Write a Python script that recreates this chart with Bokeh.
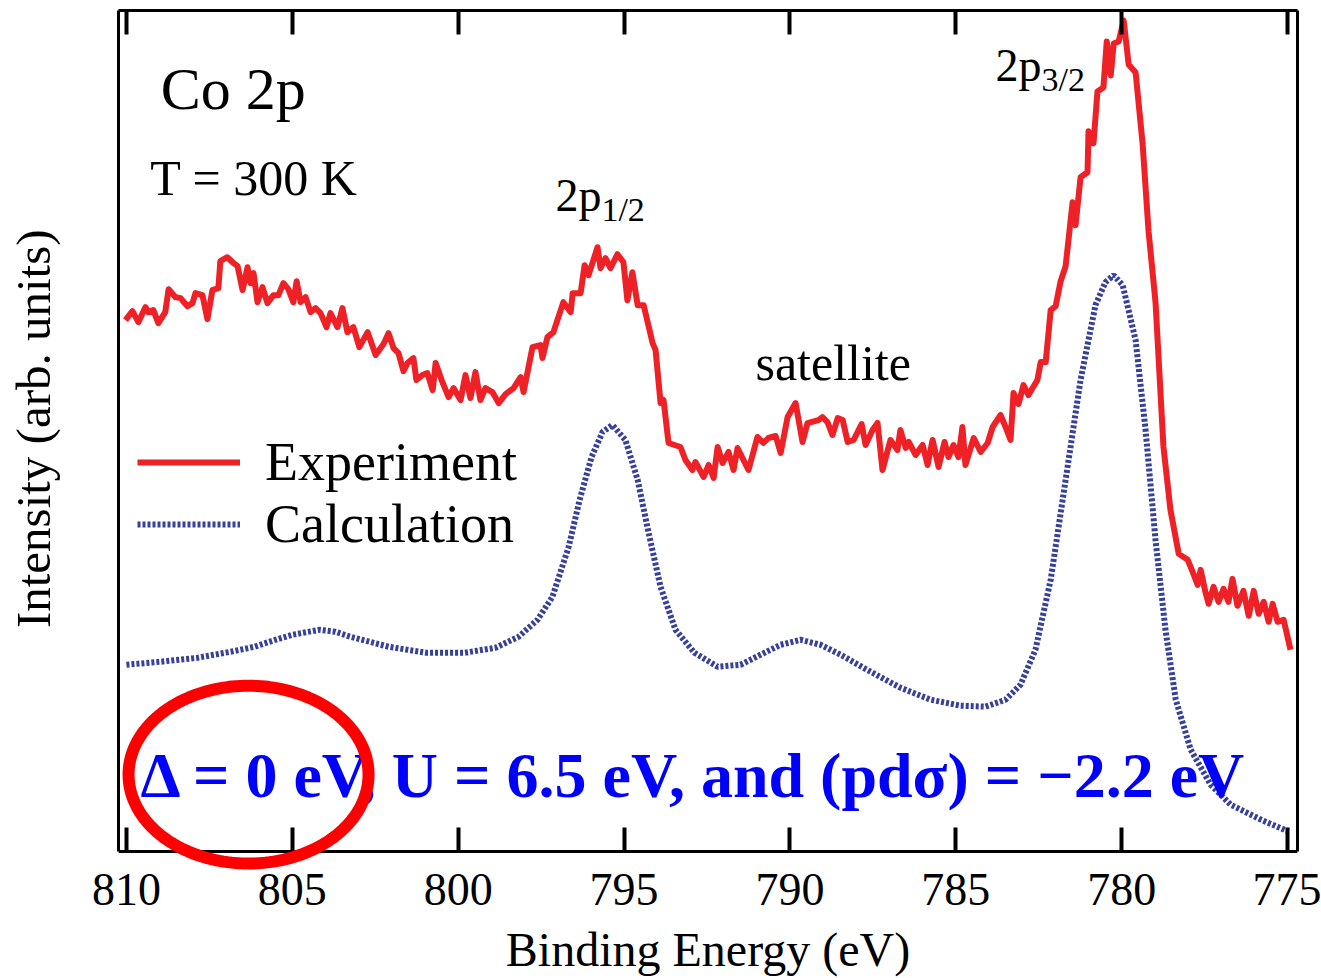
import math
from bokeh.plotting import figure
from bokeh.models import Range1d, LinearAxis, FixedTicker, Legend, LegendItem, PolyAnnotation
from bokeh.core.properties import value
from bokeh.embed import file_html
from bokeh.resources import INLINE

SERIF = "Liberation Serif"

# ---------------- data ----------------
exp_energy = [810.03, 809.82, 809.64, 809.43, 809.34, 809.19, 809.04, 808.83, 808.73, 808.52,
              808.37, 808.16, 808.01, 807.92, 807.71, 807.56, 807.41, 807.23, 807.17, 806.96,
              806.77, 806.65, 806.50, 806.35, 806.26, 806.17, 806.05, 805.90, 805.75, 805.57,
              805.42, 805.27, 805.12, 804.97, 804.87, 804.75, 804.60, 804.45, 804.30, 804.15,
              803.97, 803.85, 803.64, 803.49, 803.34, 803.16, 802.98, 802.73, 802.49, 802.25,
              802.10, 801.95, 801.80, 801.65, 801.53, 801.35, 801.26, 801.08, 800.93, 800.77,
              800.68, 800.50, 800.29, 800.14, 799.93, 799.78, 799.63, 799.48, 799.33, 799.18,
              798.97, 798.78, 798.57, 798.33, 798.12, 798.03, 797.76, 797.52, 797.46, 797.31,
              797.13, 796.83, 796.61, 796.55, 796.31, 796.19, 796.07, 795.80, 795.71, 795.56,
              795.41, 795.20, 795.02, 794.90, 794.75, 794.59, 794.41, 794.14, 794.05, 793.90,
              793.81, 793.66, 793.30, 793.15, 792.94, 792.85, 792.60, 792.45, 792.30, 792.18,
              792.03, 791.85, 791.70, 791.58, 791.40, 791.25, 790.98, 790.80, 790.65, 790.43,
              790.28, 790.07, 789.83, 789.62, 789.47, 789.14, 789.02, 788.87, 788.72, 788.56,
              788.41, 788.26, 788.08, 787.84, 787.72, 787.51, 787.36, 787.21, 786.97, 786.76,
              786.67, 786.51, 786.42, 786.21, 786.00, 785.85, 785.70, 785.52, 785.34, 785.22,
              785.07, 784.92, 784.80, 784.71, 784.46, 784.25, 784.04, 783.89, 783.65, 783.50,
              783.35, 783.26, 783.11, 782.96, 782.81, 782.54, 782.44, 782.29, 782.14, 781.99,
              781.84, 781.69, 781.48, 781.39, 781.24, 781.03, 781.00, 780.85, 780.73, 780.55,
              780.45, 780.33, 780.24, 780.09, 779.94, 779.79, 779.58, 779.37, 779.19, 778.98,
              778.74, 778.53, 778.28, 778.01, 777.86, 777.71, 777.62, 777.47, 777.38, 777.23,
              777.08, 776.93, 776.78, 776.66, 776.51, 776.33, 776.17, 776.02, 775.87, 775.72,
              775.57, 775.45, 775.30, 775.12, 774.91]

exp_intensity = [5.32, 5.41, 5.30, 5.45, 5.40, 5.42, 5.29, 5.40, 5.63, 5.55,
                 5.54, 5.46, 5.49, 5.59, 5.57, 5.33, 5.62, 5.64, 5.91, 5.95,
                 5.89, 5.86, 5.62, 5.85, 5.69, 5.79, 5.50, 5.65, 5.49, 5.57,
                 5.57, 5.69, 5.63, 5.50, 5.71, 5.50, 5.55, 5.40, 5.44, 5.39,
                 5.25, 5.39, 5.25, 5.44, 5.20, 5.25, 5.05, 5.20, 4.97, 5.08,
                 5.19, 5.04, 4.99, 4.81, 4.89, 4.94, 4.72, 4.77, 4.79, 4.62,
                 4.89, 4.72, 4.55, 4.64, 4.52, 4.77, 4.54, 4.80, 4.52, 4.64,
                 4.60, 4.49, 4.58, 4.64, 4.75, 4.60, 5.05, 5.07, 4.94, 5.15,
                 5.20, 5.50, 5.40, 5.59, 5.59, 5.87, 5.77, 6.05, 5.84, 5.94,
                 5.84, 5.98, 5.90, 5.52, 5.80, 5.47, 5.47, 5.09, 5.02, 4.49,
                 4.52, 4.09, 4.05, 3.92, 3.82, 3.90, 3.75, 3.87, 3.74, 4.05,
                 3.89, 4.00, 3.82, 4.04, 3.92, 3.82, 4.15, 4.09, 4.14, 4.16,
                 3.99, 4.35, 4.49, 4.10, 4.29, 4.32, 4.35, 4.30, 4.17, 4.34,
                 4.32, 4.10, 4.12, 4.28, 4.07, 4.22, 4.29, 3.82, 4.12, 4.02,
                 4.22, 4.04, 4.10, 3.97, 4.07, 3.87, 4.12, 3.85, 4.10, 3.95,
                 4.07, 3.95, 4.25, 3.87, 4.14, 4.00, 4.09, 4.25, 4.37, 4.25,
                 4.12, 4.59, 4.48, 4.67, 4.57, 4.72, 4.90, 4.90, 5.42, 5.46,
                 5.71, 5.86, 6.50, 6.27, 6.75, 6.80, 7.21, 7.09, 7.61, 7.65,
                 8.11, 7.77, 8.09, 8.11, 8.32, 7.88, 7.80, 7.09, 6.21, 5.50,
                 4.05, 3.42, 2.98, 2.92, 2.80, 2.67, 2.82, 2.59, 2.48, 2.65,
                 2.50, 2.63, 2.50, 2.73, 2.46, 2.61, 2.36, 2.61, 2.38, 2.50,
                 2.30, 2.48, 2.30, 2.32, 2.02]

calc_energy = [810.00, 808.97, 807.86, 806.86, 806.14, 805.51, 805.00, 804.18, 803.70, 803.25,
               802.10, 800.96, 799.81, 798.88, 798.18, 797.61, 797.16, 796.67, 796.34, 795.98,
               795.65, 795.35, 794.96, 794.59, 794.26, 793.90, 793.45, 792.88, 792.18, 791.49,
               790.89, 790.28, 789.68, 789.08, 788.47, 787.57, 786.67, 785.76, 784.86, 784.10,
               783.50, 783.05, 782.60, 782.14, 781.69, 781.24, 780.79, 780.49, 780.24, 779.97,
               779.58, 779.28, 778.98, 778.68, 778.37, 777.92, 777.32, 776.72, 775.81, 774.97]

calc_intensity = [1.87, 1.90, 1.94, 2.00, 2.05, 2.12, 2.17, 2.22, 2.20, 2.15,
                  2.05, 1.99, 1.99, 2.04, 2.15, 2.32, 2.55, 3.05, 3.52, 3.95,
                  4.20, 4.27, 4.12, 3.72, 3.19, 2.65, 2.22, 1.99, 1.85, 1.87,
                  1.97, 2.07, 2.12, 2.07, 1.97, 1.80, 1.64, 1.52, 1.46, 1.45,
                  1.52, 1.67, 2.02, 2.72, 3.72, 4.72, 5.47, 5.70, 5.77, 5.67,
                  5.12, 4.22, 3.12, 2.22, 1.52, 1.02, 0.67, 0.47, 0.32, 0.20]

x_ticks = [810, 805, 800, 795, 790, 785, 780, 775]
x_tick_labels = ["810", "805", "800", "795", "790", "785", "780", "775"]

series_labels = ["Experiment", "Calculation"]
params_text = "\u0394 = 0 eV, U = 6.5 eV, and (pd\u03c3) = \u22122.2 eV"

# ---------------- figure ----------------
X_START, X_END = 810.24, 774.70
Y_BOX_START, Y_END = 0.0, 8.42   # the drawn box
Y_START = -0.20                  # a little room below the box for the highlight ellipse

p = figure(width=1321, height=978, output_backend="svg", toolbar_location=None,
           x_range=Range1d(X_START, X_END), y_range=Range1d(Y_START, Y_END),
           x_axis_location=None, y_axis_location=None,
           min_border_left=118, min_border_right=24, min_border_top=10, min_border_bottom=106)
p.grid.visible = False
p.background_fill_color = "white"
p.border_fill_color = "white"
p.outline_line_color = None

overrides = {t: l for t, l in zip(x_ticks, x_tick_labels)}


def unlabeled_axis(ticks, **kw):
    """Axis that draws only its rule and inward ticks (no tick labels)."""
    return LinearAxis(ticker=FixedTicker(ticks=ticks), major_label_text_color=None,
                      major_label_text_font_size="1px", major_label_standoff=0, **kw)


# box bottom edge with inward ticks (sits at the bottom of the drawn box)
bottom_rule = unlabeled_axis(x_ticks, fixed_location=Y_BOX_START)
# tick labels and title of the x axis
bottom = LinearAxis(ticker=FixedTicker(ticks=x_ticks), axis_label="Binding Energy (eV)",
                    major_label_overrides=overrides)
top = unlabeled_axis(x_ticks)
left = unlabeled_axis([], axis_label="\u00a0\u00a0Intensity (arb. units)",
                      bounds=(Y_BOX_START, Y_END))
right = unlabeled_axis([], bounds=(Y_BOX_START, Y_END))
for ax in (bottom_rule, bottom, top, left, right):
    ax.axis_line_color = "black"
    ax.axis_line_width = 3
    ax.major_tick_in = 24
    ax.major_tick_out = 0
    ax.major_tick_line_width = 4
    ax.major_tick_line_color = "black"
    ax.minor_tick_line_color = None
    ax.axis_label_text_font = SERIF
    ax.axis_label_text_font_style = "normal"
    ax.axis_label_text_color = "black"
    ax.major_label_text_font = SERIF

bottom.axis_line_color = None
bottom.major_tick_line_color = None
bottom.major_tick_in = 0
bottom.major_label_text_color = "black"
bottom.major_label_text_font_size = "46px"
bottom.major_label_standoff = 2
bottom.axis_label_text_font_size = "48px"
bottom.axis_label_standoff = 15
left.axis_label_text_font_size = "49px"
left.axis_label_standoff = 58

p.add_layout(bottom_rule, "below")
p.add_layout(bottom, "below")
p.add_layout(top, "above")
p.add_layout(left, "left")
p.add_layout(right, "right")

# ---------------- curves ----------------
r_exp = p.line(exp_energy, exp_intensity, line_color="#EE2127", line_width=6, line_join="round")
r_calc = p.line(calc_energy, calc_intensity, line_color="#37419A", line_width=6,
                line_dash="3 2")

legend = Legend(items=[LegendItem(label=series_labels[0], renderers=[r_exp]),
                       LegendItem(label=series_labels[1], renderers=[r_calc])],
                location=(19, 316), orientation="vertical",
                padding=0, margin=0, spacing=0,
                glyph_width=103, glyph_height=62, label_height=62,
                label_standoff=25,
                label_text_font=SERIF, label_text_font_size="54px",
                label_text_color="black",
                border_line_alpha=0, background_fill_alpha=0)
p.add_layout(legend)

# ---------------- annotations ----------------
BASELINE_SHIFT = 0.38  # compensates the renderer's baseline placement (fraction of font size)


def add_text(x, y, s, size, dy=0, **kw):
    color = kw.pop("color", "black")
    p.text(x=[x], y=[y], text=[s], text_font=value(SERIF), text_font_size=f"{size}px",
           text_baseline="alphabetic", text_align="left", text_color=color,
           y_offset=dy - round(BASELINE_SHIFT * size), **kw)


add_text(808.97, 7.40, "Co 2p", 60)
add_text(809.28, 6.55, "T = 300 K", 50)
add_text(797.07, 6.40, "2p", 46)
add_text(797.07, 6.40, "1/2", 34, dy=10, x_offset=46)
add_text(783.80, 7.70, "2p", 46)
add_text(783.80, 7.70, "3/2", 34, dy=10, x_offset=46)
add_text(791.04, 4.70, "satellite", 50)
add_text(809.58, 0.52, params_text, 64, color="#0000FF", text_font_style="bold")

# red ellipse highlight (centre in data units, radii in screen px)
ell_cx, ell_cy = 806.32, 0.77
ell_rx_px, ell_ry_px = 120, 89
px_per_x = 1179 / (X_START - X_END)
px_per_y = 862 / (Y_END - Y_START)
n = 180
ell_xs = [ell_cx + ell_rx_px / px_per_x * math.cos(2 * math.pi * i / n) for i in range(n)]
ell_ys = [ell_cy + ell_ry_px / px_per_y * math.sin(2 * math.pi * i / n) for i in range(n)]
p.add_layout(PolyAnnotation(xs=ell_xs, ys=ell_ys, fill_alpha=0, line_color="#FF0000",
                            line_width=12, line_alpha=1))

open("out.html", "w").write(file_html(p, INLINE))
